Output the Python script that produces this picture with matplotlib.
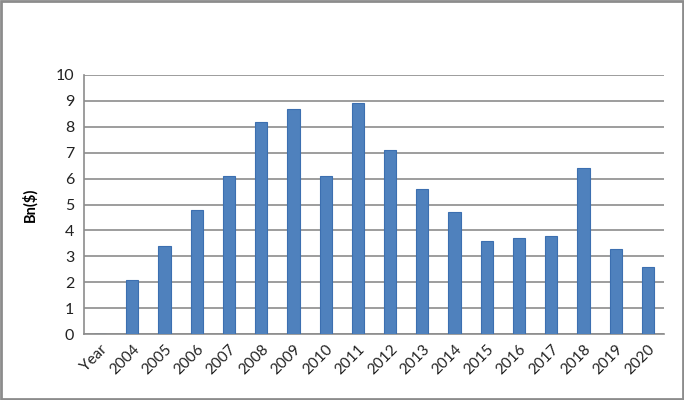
import matplotlib
matplotlib.use("Agg")
from matplotlib import pyplot as plt
from matplotlib.patches import Rectangle

plt.rcParams['font.family'] = ['Lato', 'DejaVu Sans']

categories = ['Year', '2004', '2005', '2006', '2007', '2008', '2009', '2010', '2011',
              '2012', '2013', '2014', '2015', '2016', '2017', '2018', '2019', '2020']
values = [0, 2.1, 3.4, 4.8, 6.1, 8.2, 8.7, 6.1, 8.9,
          7.1, 5.6, 4.7, 3.6, 3.7, 3.8, 6.4, 3.3, 2.6]
yticks = list(range(0, 11))

fig = plt.figure(figsize=(6.84, 4.0), dpi=100)
ax = fig.add_axes([0.1228, 0.165, 0.848, 0.6475])

x = list(range(len(categories)))
ax.bar(x, values, width=0.38, color='#4F81BD', edgecolor='#3C6FB0', linewidth=0.8, zorder=3)

ax.set_xlim(-0.5, len(categories) - 0.5)
ax.set_ylim(0, 10)
ax.set_yticks(yticks)
ax.set_yticklabels([str(t) for t in yticks], fontsize=11.5, color='#222222')
ax.set_xticks(x)
ax.set_xticklabels(categories, rotation=45, ha='right', rotation_mode='anchor',
                   fontsize=11, color='#222222')
ax.tick_params(axis='y', length=0, pad=7)
ax.tick_params(axis='x', length=0, pad=6)

ax.grid(axis='y', color='#8C8C8C', linewidth=1.2, zorder=0)
for s in ['top', 'right']:
    ax.spines[s].set_visible(False)
ax.spines['left'].set_color('#8C8C8C')
ax.spines['bottom'].set_color('#8C8C8C')
ax.spines['left'].set_linewidth(1.2)
ax.spines['bottom'].set_linewidth(1.2)

ax.set_ylabel('Bn($)', fontsize=10.5, fontweight='bold', labelpad=13)

fig.patches.append(Rectangle((0.002, 0.003), 0.996, 0.994, transform=fig.transFigure,
                             fill=False, edgecolor='#8C8C8C', linewidth=2))

fig.savefig('out.png', dpi=100)
